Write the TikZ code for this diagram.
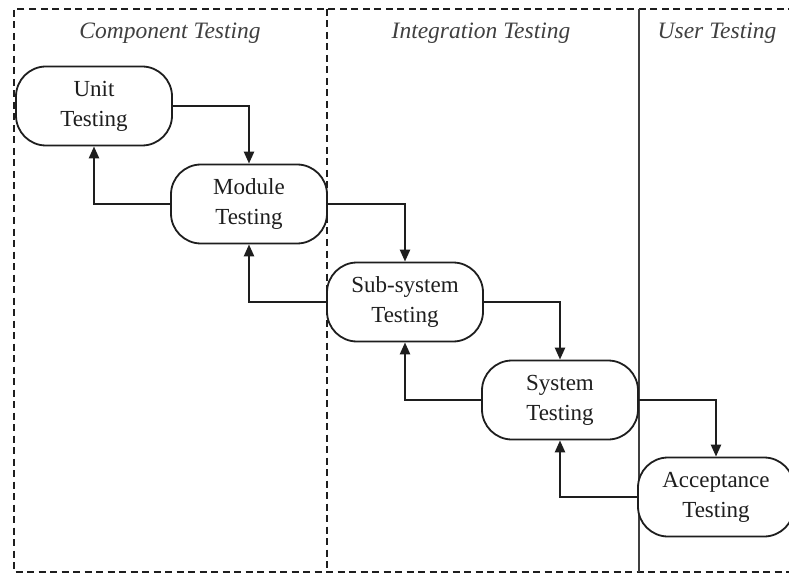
\documentclass[tikz,border=0pt]{standalone}
\usepackage{fontspec}
\setmainfont{Liberation Serif}
\usetikzlibrary{arrows.meta}
\definecolor{ink}{RGB}{30,30,30}
\tikzset{
  stage/.style={draw=ink, line width=1.8pt, rounded corners=30pt, minimum width=156pt, minimum height=79pt, inner sep=0pt, align=center, text=ink, font=\fontsize{23}{30}\selectfont, fill=white},
  arr/.style={draw=ink, line width=2.4pt, -{Triangle[width=10pt,length=12pt]}},
  lane/.style={text=ink!85, font=\fontsize{23.5}{28}\selectfont\itshape},
  border/.style={draw=ink, line width=2.4pt, dash pattern=on 7pt off 4.5pt}
}
\begin{document}
\begin{tikzpicture}[x=1pt,y=-1pt]
\useasboundingbox (0,0) rectangle (789,577);
\fill[white] (0,0) rectangle (789,577);
\clip (0,0) rectangle (789,577);
% frame and lanes
\draw[border] (795,9) -- (14,9) -- (14,572) -- (795,572);
\draw[border] (327,9) -- (327,572);
\draw[draw=ink!85, line width=2.4pt] (639,9) -- (639,572);
\node[lane] (l1) at (170,33) {Component Testing};
\node[lane] (l2) at (481,33) {Integration Testing};
\node[lane] (l3) at (717,33) {User Testing};
% stages
\node[stage] (unit) at (94,106) {Unit\\Testing};
\node[stage] (module) at (249,204) {Module\\Testing};
\node[stage] (sub) at (405,302) {Sub-system\\Testing};
\node[stage] (sys) at (560,400) {System\\Testing};
\node[stage] (acc) at (716,497) {Acceptance\\Testing};
% connectors
\draw[arr] (unit.east) -| (module.north);
\draw[arr] (module.west) -| (unit.south);
\draw[arr] (module.east) -| (sub.north);
\draw[arr] (sub.west) -| (module.south);
\draw[arr] (sub.east) -| (sys.north);
\draw[arr] (sys.west) -| (sub.south);
\draw[arr] (sys.east) -| (acc.north);
\draw[arr] (acc.west) -| (sys.south);
\end{tikzpicture}
\end{document}
